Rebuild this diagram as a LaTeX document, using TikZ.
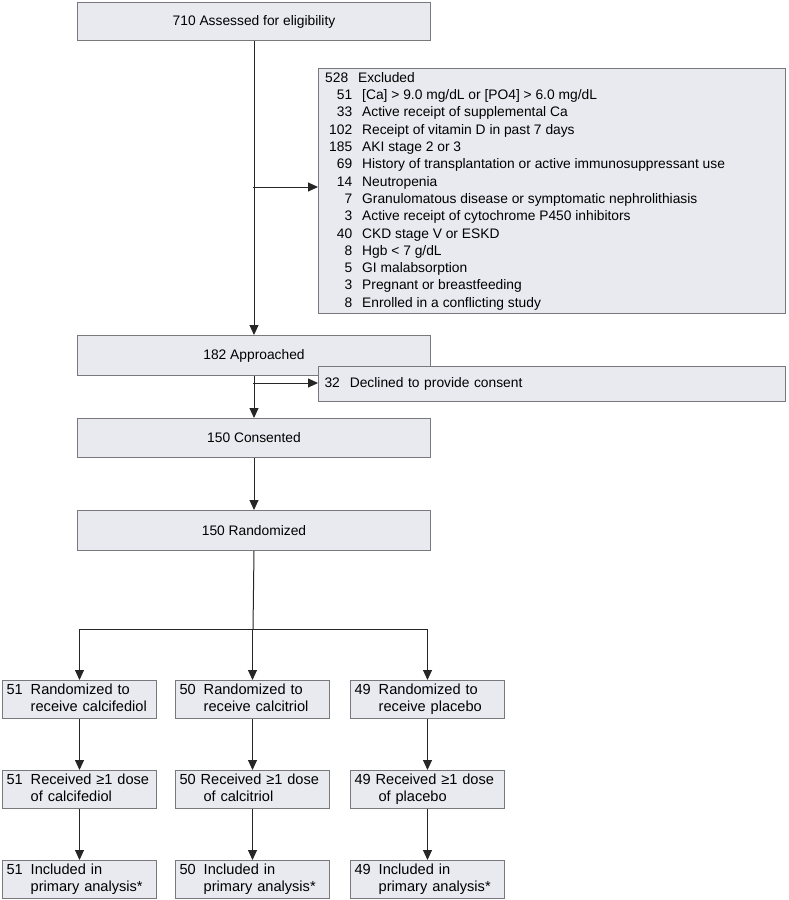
\documentclass[tikz,border=0pt]{standalone}
\usepackage{fontspec}
\setmainfont{Liberation Sans}
\usetikzlibrary{arrows.meta}
\definecolor{bfill}{RGB}{232,234,240}
\definecolor{bdraw}{RGB}{120,120,125}
\begin{document}
\begin{tikzpicture}[x=1pt,y=-1pt,
  box/.style={draw=bdraw,fill=bfill,line width=1pt,inner sep=0pt,font=\fontsize{13.8}{17}\selectfont},
  arr/.style={-{Triangle[length=10pt,width=9pt]},line width=1pt,draw=black!85},
  ln/.style={line width=1pt,draw=black!85}]
\useasboundingbox (0,0) rectangle (789,900);
\node[box,minimum width=353,minimum height=38,anchor=north west] (top) at (77,2) {710 Assessed for eligibility};
\node[box,minimum width=467,minimum height=245,anchor=north west] (exc) at (318,68) {};
\node[anchor=north west,inner sep=0pt,font=\fontsize{13.8}{17.3}\selectfont] at (325,70) {%
\begin{tabular}{@{\hspace{4pt}}r@{\hspace{10pt}}l@{}}
\multicolumn{2}{@{}l}{528\hspace{6pt} Excluded}\\
51 & [Ca] > 9.0 mg/dL or [PO4] > 6.0 mg/dL\\
33 & Active receipt of supplemental Ca\\
102 & Receipt of vitamin D in past 7 days\\
185 & AKI stage 2 or 3\\
69 & History of transplantation or active immunosuppressant use\\
14 & Neutropenia\\
7 & Granulomatous disease or symptomatic nephrolithiasis\\
3 & Active receipt of cytochrome P450 inhibitors\\
40 & CKD stage V or ESKD\\
8 & Hgb < 7 g/dL\\
5 & GI malabsorption\\
3 & Pregnant or breastfeeding\\
8 & Enrolled in a conflicting study
\end{tabular}};
\node[box,minimum width=353,minimum height=40,anchor=north west] (app) at (77,335) {182 Approached};
\node[box,minimum width=467,minimum height=35,anchor=north west,align=left,text width=455,inner xsep=6pt] (dec) at (318,366) {32\hspace{10pt}Declined to provide consent};
\node[box,minimum width=353,minimum height=39,anchor=north west] (con) at (77,418) {150 Consented};
\node[box,minimum width=353,minimum height=40,anchor=north west] (ran) at (77,510) {150 Randomized};
\tikzset{rb/.style={box,minimum width=154,minimum height=38,anchor=north west,align=left,text width=146,inner xsep=4pt,font=\fontsize{14.6}{16.5}\selectfont}}
\node[rb] (a1) at (2,680) {\begin{tabular}{@{}l@{\hspace{8pt}}l@{}}51&Randomized to\\&receive calcifediol\end{tabular}};
\node[rb] (b1) at (175,680) {\begin{tabular}{@{}l@{\hspace{8pt}}l@{}}50&Randomized to\\&receive calcitriol\end{tabular}};
\node[rb] (c1) at (350,680) {\begin{tabular}{@{}l@{\hspace{8pt}}l@{}}49&Randomized to\\&receive placebo\end{tabular}};
\node[rb] (a2) at (2,770) {\begin{tabular}{@{}l@{\hspace{8pt}}l@{}}51&Received ≥1 dose\\&of calcifediol\end{tabular}};
\node[rb] (b2) at (175,770) {\begin{tabular}{@{}l@{}}50 Received ≥1 dose\\\hspace{24pt}of calcitriol\end{tabular}};
\node[rb] (c2) at (350,770) {\begin{tabular}{@{}l@{}}49 Received ≥1 dose\\\hspace{24pt}of placebo\end{tabular}};
\node[rb] (a3) at (2,860) {\begin{tabular}{@{}l@{\hspace{8pt}}l@{}}51&Included in\\&primary analysis*\end{tabular}};
\node[rb] (b3) at (175,860) {\begin{tabular}{@{}l@{\hspace{8pt}}l@{}}50&Included in\\&primary analysis*\end{tabular}};
\node[rb] (c3) at (350,860) {\begin{tabular}{@{}l@{\hspace{8pt}}l@{}}49&Included in\\&primary analysis*\end{tabular}};
\draw[arr] (top.south) -- (app.north);
\coordinate (j1) at (253,187);
\draw[arr] (j1) -- (exc.west|-j1);
\coordinate (j2) at (253,383);
\draw[arr] (app.south) -- (con.north);
\draw[arr] (j2) -- (dec.west|-j2);
\draw[arr] (con.south) -- (ran.north);
\coordinate (br) at (253,629);
\draw[ln] (ran.south) -- (br);
\draw[arr] (br) -| (a1.north);
\draw[arr] (br) -| (b1.north);
\draw[arr] (br) -| (c1.north);
\draw[arr] (a1) -- (a2); \draw[arr] (a2) -- (a3);
\draw[arr] (b1) -- (b2); \draw[arr] (b2) -- (b3);
\draw[arr] (c1) -- (c2); \draw[arr] (c2) -- (c3);
\end{tikzpicture}
\end{document}
